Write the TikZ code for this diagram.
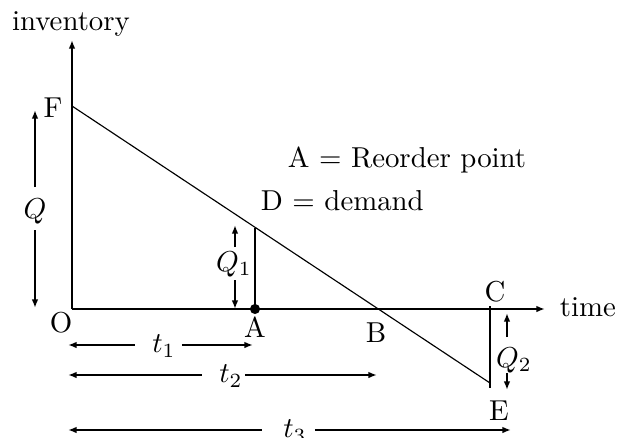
\documentclass[tikz,border=0pt]{standalone}
\usetikzlibrary{arrows.meta}
\begin{document}
\begin{tikzpicture}[x=0.347pt,y=-0.347pt,line width=0.6pt,
  arr/.style={-{Latex[length=3pt,width=2.3pt]}},
  lbl/.style={inner sep=0pt}]
\useasboundingbox (0,0) rectangle (627,438);
% key points
\coordinate (O) at (72,309);
\coordinate (Ytop) at (72,40);
\coordinate (Xend) at (545,309);
\coordinate (F) at (72,106);
\coordinate (E) at (490,383);
\coordinate (Ctop) at (490,306);
\coordinate (Ebot) at (490,388);
\coordinate (A) at (255,309);
\coordinate (Atop) at (255,228);
% axes
\draw[arr] (O) -- (Ytop);
\draw[arr] (O) -- (Xend);
\draw[line width=0.4pt] (F) -- (E);
\draw (Ctop) -- (Ebot);
\draw (A) -- (Atop);
\fill (A) circle (1.75pt);
% labels
\node[lbl] (inv) at (71,24) {inventory};
\node[lbl] (time) at (588,307) {time};
\node[lbl] (Fl) at (53,108) {F};
\node[lbl] (Ol) at (61,323) {O};
\node[lbl] (Al) at (255,327) {A};
\node[lbl] (Bl) at (376,333) {B};
\node[lbl] (Cl) at (495,292) {C};
\node[lbl] (El) at (499,411) {E};
\node[lbl,anchor=base west] (k1) at (287,167) {A $=$ Reorder point};
\node[lbl,anchor=base west] (k2) at (260,210) {D $=$ demand};
% Q
\node[lbl] (Q) at (35,211) {$Q$};
\coordinate (Qa) at (35,187); \coordinate (Qt) at (35,110);
\coordinate (Qb) at (35,230); \coordinate (Qd) at (35,308);
\draw[arr] (Qa) -- (Qt);
\draw[arr] (Qb) -- (Qd);
% Q1
\node[lbl] (Q1) at (234,264) {$Q_1$};
\coordinate (Q1a) at (235,247); \coordinate (Q1t) at (235,225);
\coordinate (Q1b) at (235,280); \coordinate (Q1d) at (235,309);
\draw[arr] (Q1a) -- (Q1t);
\draw[arr] (Q1b) -- (Q1d);
% Q2
\node[lbl] (Q2) at (514,360) {$Q_2$};
\coordinate (Q2a) at (507,337); \coordinate (Q2t) at (507,313);
\coordinate (Q2b) at (507,373); \coordinate (Q2d) at (507,390);
\draw[arr] (Q2a) -- (Q2t);
\draw[arr] (Q2b) -- (Q2d);
% t1
\node[lbl] (t1) at (164,346) {$t_1$};
\coordinate (t1a) at (135,345); \coordinate (t1L) at (68,345);
\coordinate (t1b) at (182,345); \coordinate (t1R) at (253,345);
\draw[arr] (t1a) -- (t1L);
\draw[arr] (t1b) -- (t1R);
% t2
\node[lbl] (t2) at (231,376) {$t_2$};
\coordinate (t2a) at (202,375); \coordinate (t2L) at (68,375);
\coordinate (t2b) at (245,375); \coordinate (t2R) at (377,375);
\draw[arr] (t2a) -- (t2L);
\draw[arr] (t2b) -- (t2R);
% t3
\node[lbl] (t3) at (295,431) {$t_3$};
\coordinate (t3a) at (262,430); \coordinate (t3L) at (68,430);
\coordinate (t3b) at (315,430); \coordinate (t3R) at (511,430);
\draw[arr] (t3a) -- (t3L);
\draw[arr] (t3b) -- (t3R);
\end{tikzpicture}
\end{document}
